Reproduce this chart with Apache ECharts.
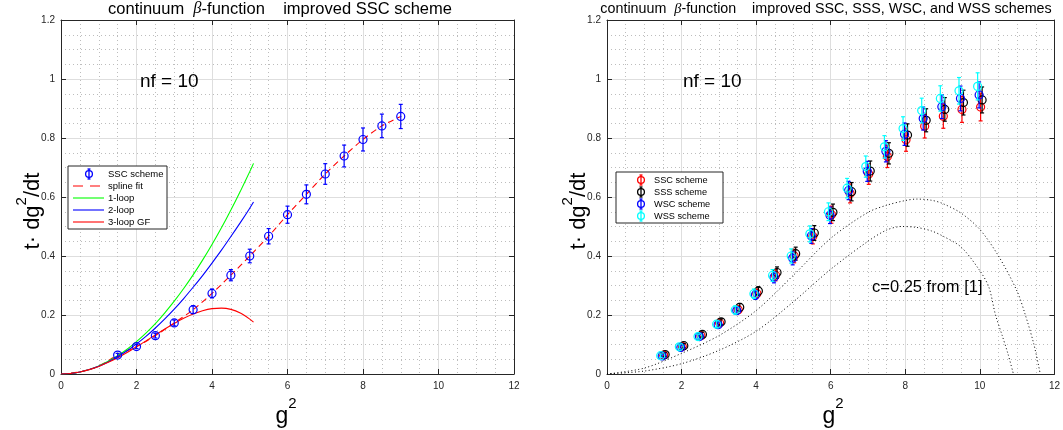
<!DOCTYPE html>
<html>
<head>
<meta charset="utf-8">
<script src="https://cdn.jsdelivr.net/npm/echarts@6/dist/echarts.min.js"></script>
<style>
  html, body { margin: 0; padding: 0; background: #ffffff; }
  #chart { width: 1063px; height: 430px; }
</style>
</head>
<body>
<div id="chart"></div>
<script>
// ---- data: left panel (improved SSC scheme) ----
const g2Left = [1.5, 2, 2.5, 3, 3.5, 4, 4.5, 5, 5.5, 6, 6.5, 7, 7.5, 8, 8.5, 9];
const sscLeft = [0.064, 0.093, 0.130, 0.173, 0.218, 0.273, 0.335, 0.400, 0.467, 0.540, 0.609, 0.678, 0.739, 0.795, 0.841, 0.873];
const sscLeftErr = [0.006, 0.007, 0.008, 0.010, 0.013, 0.015, 0.019, 0.023, 0.026, 0.029, 0.032, 0.035, 0.037, 0.039, 0.040, 0.041];

const splineX = [0, 0.5, 1, 1.5, 2, 2.5, 3, 3.5, 4, 4.5, 5, 5.5, 6, 6.5, 7, 7.5, 8, 8.5, 9];
const splineY = [0, 0.007, 0.027, 0.064, 0.093, 0.130, 0.173, 0.218, 0.273, 0.335, 0.400, 0.467, 0.540, 0.609, 0.678, 0.739, 0.795, 0.841, 0.873];

const loopX = [0, 0.25, 0.5, 0.75, 1, 1.25, 1.5, 1.75, 2, 2.25, 2.5, 2.75, 3, 3.25, 3.5, 3.75, 4, 4.25, 4.5, 4.75, 5, 5.1];
const oneLoop = [0, 0.0017, 0.0069, 0.0154, 0.0274, 0.0429, 0.0617, 0.0840, 0.110, 0.1389, 0.171, 0.2075, 0.247, 0.2898, 0.336, 0.3859, 0.439, 0.4956, 0.556, 0.6191, 0.686, 0.714];
const twoLoop = [0, 0.0017, 0.0068, 0.0150, 0.0264, 0.0410, 0.0584, 0.0787, 0.102, 0.1276, 0.156, 0.1869, 0.220, 0.2558, 0.294, 0.3337, 0.376, 0.4197, 0.466, 0.5131, 0.562, 0.583];
const threeLoopGF = [0, 0.0017, 0.0067, 0.0148, 0.0258, 0.0395, 0.0554, 0.0731, 0.0923, 0.1122, 0.1325, 0.1525, 0.1715, 0.1886, 0.2033, 0.2146, 0.2217, 0.2233, 0.219, 0.2066, 0.186, 0.176];

// ---- data: right panel (SSC, SSS, WSC, WSS) ----
const g2Right = [1.5, 2, 2.5, 3, 3.5, 4, 4.5, 5, 5.5, 6, 6.5, 7, 7.5, 8, 8.5, 9, 9.5, 10];
const sscRight = [0.064, 0.093, 0.130, 0.173, 0.218, 0.273, 0.335, 0.400, 0.467, 0.540, 0.612, 0.678, 0.737, 0.794, 0.840, 0.874, 0.897, 0.905];
const sssRight = [0.066, 0.096, 0.134, 0.177, 0.226, 0.281, 0.344, 0.408, 0.478, 0.548, 0.618, 0.688, 0.748, 0.810, 0.860, 0.897, 0.920, 0.929];
const wscRight = [0.061, 0.090, 0.127, 0.167, 0.215, 0.268, 0.328, 0.392, 0.468, 0.538, 0.622, 0.687, 0.755, 0.813, 0.866, 0.906, 0.934, 0.946];
const wssRight = [0.062, 0.092, 0.127, 0.169, 0.217, 0.272, 0.334, 0.400, 0.475, 0.550, 0.630, 0.703, 0.770, 0.832, 0.893, 0.934, 0.960, 0.975];
const sscRightErr = [0.006, 0.007, 0.008, 0.010, 0.013, 0.015, 0.019, 0.023, 0.026, 0.029, 0.032, 0.035, 0.037, 0.039, 0.040, 0.041, 0.044, 0.047];
const sssRightErr = [0.006, 0.007, 0.008, 0.010, 0.013, 0.015, 0.019, 0.022, 0.025, 0.028, 0.031, 0.034, 0.036, 0.038, 0.039, 0.040, 0.042, 0.044];
const wscRightErr = [0.006, 0.007, 0.008, 0.010, 0.013, 0.015, 0.019, 0.022, 0.025, 0.028, 0.031, 0.034, 0.036, 0.038, 0.039, 0.040, 0.042, 0.044];
const wssRightErr = [0.006, 0.007, 0.008, 0.011, 0.014, 0.016, 0.020, 0.024, 0.027, 0.030, 0.033, 0.036, 0.038, 0.040, 0.042, 0.043, 0.045, 0.046];

// reference curves, c = 0.25
const refUpperX = [0, 1, 2, 3, 4, 5, 6, 7, 7.5, 8, 8.3, 8.7, 9, 9.5, 10, 10.5, 11, 11.22, 11.45, 11.62];
const refUpperY = [0, 0.02, 0.07, 0.13, 0.215, 0.335, 0.46, 0.548, 0.572, 0.588, 0.593, 0.589, 0.578, 0.545, 0.49, 0.40, 0.28, 0.20, 0.10, 0];
const refLowerX = [0, 1, 2, 3, 4, 5, 6, 7, 7.5, 7.9, 8.3, 8.7, 9, 9.5, 10, 10.24, 10.42, 10.6, 10.75, 10.9];
const refLowerY = [0, 0.01, 0.035, 0.08, 0.145, 0.245, 0.355, 0.45, 0.488, 0.50, 0.497, 0.485, 0.468, 0.43, 0.35, 0.295, 0.20, 0.13, 0.07, 0];

const xTicks = { min: 0, max: 12, interval: 2 };
const yTicks = { min: 0, max: 1.2, interval: 0.2 };

const FONT = 'Liberation Sans, Arial, sans-serif';
const AXIS_COLOR = '#262626';

function pairs(xs, ys) { return xs.map((x, i) => [x, ys[i]]); }
function triples(xs, ys, es, shift) { return xs.map((x, i) => [x + shift, ys[i], es[i]]); }

// open circle marker with vertical error bar
function errorBarRenderer(color, r) {
  return function (params, api) {
    const x = api.value(0), y = api.value(1), e = api.value(2);
    const c = api.coord([x, y]);
    const hi = api.coord([x, y + e]);
    const lo = api.coord([x, y - e]);
    const cap = 2;
    const st = { stroke: color, lineWidth: 1.2, fill: 'none' };
    return {
      type: 'group',
      children: [
        { type: 'line', shape: { x1: c[0], y1: hi[1], x2: c[0], y2: lo[1] }, style: st },
        { type: 'line', shape: { x1: c[0] - cap, y1: hi[1], x2: c[0] + cap, y2: hi[1] }, style: st },
        { type: 'line', shape: { x1: c[0] - cap, y1: lo[1], x2: c[0] + cap, y2: lo[1] }, style: st },
        { type: 'circle', shape: { cx: c[0], cy: c[1], r: r }, style: { stroke: color, lineWidth: 1.2, fill: 'none' } }
      ]
    };
  };
}

function axisPair(gridIndex) {
  const common = {
    gridIndex, min: xTicks.min, max: xTicks.max, interval: xTicks.interval,
    axisLine: { show: true, onZero: false, lineStyle: { color: AXIS_COLOR, width: 1 } },
    axisTick: { show: true, inside: true, length: 5, lineStyle: { color: AXIS_COLOR } },
    minorTick: { show: false, splitNumber: 4 }
  };
  return [
    Object.assign({}, common, {
      position: 'bottom',
      axisLabel: { show: true, fontSize: 10, color: AXIS_COLOR, margin: 7, fontFamily: FONT },
      splitLine: { show: true, lineStyle: { color: '#dedede', width: 1 } },
      minorSplitLine: { show: true, lineStyle: { color: '#bdbdbd', width: 1, type: [1, 3] } }
    }),
    Object.assign({}, common, {
      position: 'top',
      axisLabel: { show: false },
      splitLine: { show: false },
      minorSplitLine: { show: false }
    })
  ];
}

function yAxisPair(gridIndex) {
  const common = {
    gridIndex, min: yTicks.min, max: yTicks.max, interval: yTicks.interval,
    axisLine: { show: true, onZero: false, lineStyle: { color: AXIS_COLOR, width: 1 } },
    axisTick: { show: true, inside: true, length: 5, lineStyle: { color: AXIS_COLOR } },
    minorTick: { show: false, splitNumber: 4 }
  };
  return [
    Object.assign({}, common, {
      position: 'left',
      axisLabel: { show: true, fontSize: 10, color: AXIS_COLOR, margin: 6, fontFamily: FONT },
      splitLine: { show: true, lineStyle: { color: '#dedede', width: 1 } },
      minorSplitLine: { show: true, lineStyle: { color: '#bdbdbd', width: 1, type: [1, 3] } }
    }),
    Object.assign({}, common, {
      position: 'right',
      axisLabel: { show: false },
      splitLine: { show: false },
      minorSplitLine: { show: false }
    })
  ];
}

function lineSeries(name, xs, ys, color, extra) {
  return Object.assign({
    name, type: 'line', xAxisIndex: 0, yAxisIndex: 0,
    data: pairs(xs, ys), showSymbol: false, smooth: 0.2, silent: true,
    lineStyle: { color, width: 1.1 }, z: 3
  }, extra || {});
}

// legend drawn as plain graphics
function legendBlock(x, y, w, h, rows, fontSize) {
  const els = [{
    type: 'rect', shape: { x, y, width: w, height: h },
    style: { fill: '#ffffff', stroke: AXIS_COLOR, lineWidth: 1 }, z: 50
  }];
  rows.forEach(r => {
    if (r.kind === 'marker') {
      els.push({ type: 'line', shape: { x1: r.mx, y1: r.y - 5, x2: r.mx, y2: r.y + 5 }, style: { stroke: r.color, lineWidth: 1.3 }, z: 51 });
      els.push({ type: 'line', shape: { x1: r.mx - 1.5, y1: r.y - 5, x2: r.mx + 1.5, y2: r.y - 5 }, style: { stroke: r.color, lineWidth: 1.3 }, z: 51 });
      els.push({ type: 'line', shape: { x1: r.mx - 1.5, y1: r.y + 5, x2: r.mx + 1.5, y2: r.y + 5 }, style: { stroke: r.color, lineWidth: 1.3 }, z: 51 });
      els.push({ type: 'circle', shape: { cx: r.mx, cy: r.y, r: 3.4 }, style: { stroke: r.color, lineWidth: 1.3, fill: 'none' }, z: 51 });
    } else {
      els.push({ type: 'line', shape: { x1: r.x1, y1: r.y, x2: r.x2, y2: r.y },
        style: { stroke: r.color, lineWidth: 1.1, lineDash: r.dash || null }, z: 51 });
    }
    els.push({ type: 'text', x: r.tx, y: r.y,
      style: { text: r.label, fontSize, fontFamily: FONT, fill: '#000000', verticalAlign: 'middle' }, z: 51 });
  });
  return els;
}

function titleText(cx, y, size, rest) {
  return {
    type: 'text', x: cx, y: y, z: 40,
    style: {
      text: '{n|continuum  }{b|β}{n|-function    ' + rest + '}',
      align: 'center', verticalAlign: 'middle',
      rich: {
        n: { fontSize: size, fontFamily: FONT, fill: '#000000' },
        b: { fontSize: size, fontFamily: 'Liberation Serif, DejaVu Serif, serif', fontStyle: 'italic', fill: '#000000' }
      }
    }
  };
}

function yName(cx, cy) {
  return {
    type: 'text', x: cx, y: cy, rotation: Math.PI / 2, z: 40,
    style: {
      text: '{n|t· dg}{s|2}{n|/dt}',
      align: 'center', verticalAlign: 'middle',
      rich: {
        n: { fontSize: 22, fontFamily: FONT, fill: '#000000', lineHeight: 30, verticalAlign: 'bottom' },
        s: { fontSize: 15, fontFamily: FONT, fill: '#000000', lineHeight: 30, verticalAlign: 'top' }
      }
    }
  };
}

function xName(cx, cy) {
  return {
    type: 'text', x: cx, y: cy, z: 40,
    style: {
      text: '{n|g}{s|2}',
      align: 'center', verticalAlign: 'middle',
      rich: {
        n: { fontSize: 23, fontFamily: FONT, fill: '#000000', lineHeight: 32, verticalAlign: 'bottom' },
        s: { fontSize: 15, fontFamily: FONT, fill: '#000000', lineHeight: 32, verticalAlign: 'top' }
      }
    }
  };
}

function plainText(x, y, text, size) {
  return { type: 'text', x, y, z: 40,
    style: { text, fontSize: size, fontFamily: FONT, fill: '#000000', verticalAlign: 'middle' } };
}

const chart = echarts.init(document.getElementById('chart'), null, { renderer: 'canvas' });

const leftLegendRows = [
  { kind: 'marker', color: '#0000ff', mx: 89, y: 174, tx: 108, label: 'SSC scheme' },
  { kind: 'line', color: '#ff0000', x1: 73, x2: 101, y: 186, tx: 108, label: 'spline fit', dash: [10, 7] },
  { kind: 'line', color: '#00ff00', x1: 73, x2: 104, y: 198, tx: 108, label: '1-loop' },
  { kind: 'line', color: '#0000ff', x1: 73, x2: 104, y: 210, tx: 108, label: '2-loop' },
  { kind: 'line', color: '#ff0000', x1: 73, x2: 104, y: 222, tx: 108, label: '3-loop GF' }
];
const rightLegendRows = [
  { kind: 'marker', color: '#ff0000', mx: 641, y: 180, tx: 654, label: 'SSC scheme' },
  { kind: 'marker', color: '#000000', mx: 641, y: 192, tx: 654, label: 'SSS scheme' },
  { kind: 'marker', color: '#0000ff', mx: 641, y: 204, tx: 654, label: 'WSC scheme' },
  { kind: 'marker', color: '#00ffff', mx: 641, y: 216, tx: 654, label: 'WSS scheme' }
];

const option = {
  animation: false,
  backgroundColor: '#ffffff',
  grid: [
    { left: 61, top: 20, width: 453, height: 354 },
    { left: 607, top: 20, width: 453, height: 354 }
  ],
  xAxis: [...axisPair(0), ...axisPair(1)],
  yAxis: [...yAxisPair(0), ...yAxisPair(1)],
  series: [
    // left panel
    lineSeries('spline fit', splineX, splineY, '#ff0000', { smooth: 0.3, lineStyle: { color: '#ff0000', width: 1.1, type: [6, 4] } }),
    lineSeries('1-loop', loopX, oneLoop, '#00ff00'),
    lineSeries('2-loop', loopX, twoLoop, '#0000ff'),
    lineSeries('3-loop GF', loopX, threeLoopGF, '#ff0000'),
    {
      name: 'SSC scheme', type: 'custom', xAxisIndex: 0, yAxisIndex: 0, silent: true, z: 4,
      renderItem: errorBarRenderer('#0000ff', 4),
      data: triples(g2Left, sscLeft, sscLeftErr, 0)
    },
    // right panel
    {
      name: 'c=0.25 upper', type: 'line', xAxisIndex: 2, yAxisIndex: 2, showSymbol: false, smooth: 0.3, silent: true,
      data: pairs(refUpperX, refUpperY), lineStyle: { color: '#000000', width: 1, type: [1, 2.5] }, z: 3
    },
    {
      name: 'c=0.25 lower', type: 'line', xAxisIndex: 2, yAxisIndex: 2, showSymbol: false, smooth: 0.3, silent: true,
      data: pairs(refLowerX, refLowerY), lineStyle: { color: '#000000', width: 1, type: [1, 2.5] }, z: 3
    },
    {
      name: 'SSC', type: 'custom', xAxisIndex: 2, yAxisIndex: 2, silent: true, z: 4,
      renderItem: errorBarRenderer('#ff0000', 4),
      data: triples(g2Right, sscRight, sscRightErr, 0.02)
    },
    {
      name: 'SSS', type: 'custom', xAxisIndex: 2, yAxisIndex: 2, silent: true, z: 4,
      renderItem: errorBarRenderer('#000000', 4),
      data: triples(g2Right, sssRight, sssRightErr, 0.06)
    },
    {
      name: 'WSC', type: 'custom', xAxisIndex: 2, yAxisIndex: 2, silent: true, z: 4,
      renderItem: errorBarRenderer('#0000ff', 4),
      data: triples(g2Right, wscRight, wscRightErr, -0.02)
    },
    {
      name: 'WSS', type: 'custom', xAxisIndex: 2, yAxisIndex: 2, silent: true, z: 4,
      renderItem: errorBarRenderer('#00ffff', 4),
      data: triples(g2Right, wssRight, wssRightErr, -0.06)
    }
  ],
  graphic: [
    titleText(280, 9, 16.5, 'improved SSC scheme'),
    titleText(826, 9, 14.3, 'improved SSC, SSS, WSC, and WSS schemes'),
    plainText(140, 82, 'nf = 10', 19),
    plainText(683, 82, 'nf = 10', 19),
    plainText(872, 287, 'c=0.25 from [1]', 16.5),
    yName(29, 211),
    yName(575, 211),
    xName(286, 412),
    xName(833, 412),
    ...legendBlock(68, 166, 99, 63, leftLegendRows, 9.5),
    ...legendBlock(616, 172, 107, 51, rightLegendRows, 9.2)
  ]
};

chart.setOption(option);
</script>
</body>
</html>
